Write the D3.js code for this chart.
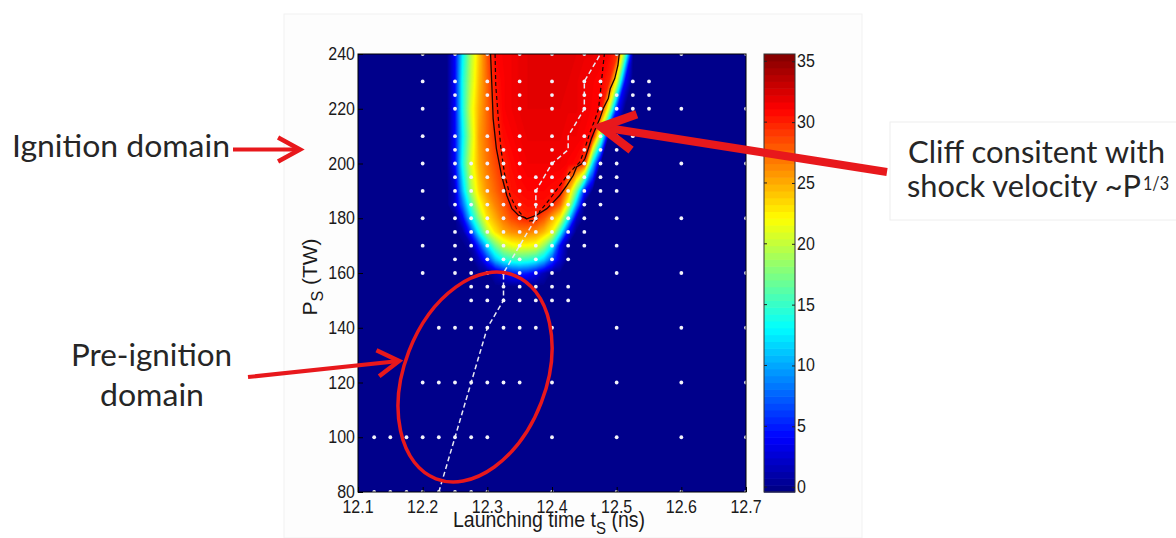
<!DOCTYPE html>
<html><head><meta charset="utf-8">
<script src="https://cdn.jsdelivr.net/npm/d3@7"></script>
<style>html,body{margin:0;padding:0;background:#fff;} svg{display:block;}</style>
</head><body>
<svg id="chart" width="1176" height="538"></svg>
<script>
// ---------------- data ----------------
const xTicks = [12.1, 12.2, 12.3, 12.4, 12.5, 12.6, 12.7];
const yTicks = [80, 100, 120, 140, 160, 180, 200, 220, 240];
const cbTicks = [0, 5, 10, 15, 20, 25, 30, 35];

// grid of the ignition map, columns = launching time, rows = power
const tGrid = [12.2, 12.2125, 12.225, 12.2375, 12.25, 12.2625, 12.275, 12.2875, 12.3, 12.3125,
  12.325, 12.3375, 12.35, 12.3625, 12.375, 12.3875, 12.4, 12.4125, 12.425, 12.4375,
  12.45, 12.4625, 12.475, 12.4875, 12.5, 12.5125, 12.525, 12.5375, 12.55, 12.5625, 12.575];
const pGrid = [240, 230, 220, 210, 200, 190, 185, 180, 175, 170, 165, 160, 155];
const ignitionField = [
  [0,0,0,0, 4,13,19.5,24,28,31,31.3,31.5,31.8,32,32,32,32,32,32,32,31.8,31.8,31.5,31,29.5,17,0,0,0,0,0],
  [0,0,0,0, 4,14,20,24.5,27.5,30.5,31.2,31.5,31.8,32,32,32,32,32,32,31.8,31.5,31.3,31,30,21,4,0,0,0,0,0],
  [0,0,0,0, 4,14,21,25,27.5,30,31.2,31.5,31.8,32,32,32,32,32,31.8,31.8,31.5,31.2,31,21,5,0,0,0,0,0,0],
  [0,0,0,0, 4,13,20,25.5,27.5,29.5,30.8,31.2,31.5,31.8,31.8,31.8,31.8,31.8,31.5,31.5,31.2,30.5,18,0,0,0,0,0,0,0,0],
  [0,0,0,0, 4,14,21,25,27,28.5,30,30.8,31.2,31.5,31.5,31.5,31.5,31.5,31.2,30.8,29,12,0,0,0,0,0,0,0,0,0],
  [0,0,0,0, 2,11,19,23.5,26,27.5,29,30.5,30.8,31,31,31,30.8,30.5,25,17,5,0,0,0,0,0,0,0,0,0,0],
  [0,0,0,0, 2,8,15.5,21.5,24.5,26.5,28,30,30.3,30.6,30.6,30.6,30,27.5,21,10,0,0,0,0,0,0,0,0,0,0,0],
  [0,0,0,0, 0,4,12,18,23,25,27,28.5,29.5,30,29.5,28,25,22,13,2,0,0,0,0,0,0,0,0,0,0,0],
  [0,0,0,0, 0,1,6,13.5,19.5,23,25,26,26.5,26.5,26,24.5,22,14,4,0,0,0,0,0,0,0,0,0,0,0,0],
  [0,0,0,0, 0,0,1,6,12,17,20,21.5,22,22,21.5,18.5,13.5,4,0,0,0,0,0,0,0,0,0,0,0,0,0],
  [0,0,0,0, 0,0,0,2,6,11,14,15,15.5,15,14,11.5,7,2.5,0,0,0,0,0,0,0,0,0,0,0,0,0],
  [0,0,0,0, 0,0,0,0,0,1.5,3.5,5,5.5,5,3.5,1.5,0,0,0,0,0,0,0,0,0,0,0,0,0,0,0],
  [0,0,0,0, 0,0,0,0,0,0,0,0,0,0,0,0,0,0,0,0,0,0,0,0,0,0,0,0,0,0,0]
];

// ignition boundary (solid black), inner boundary (dashed black), minimum-time path (white dashed)
const solidBoundary = [[12.305,240],[12.307,228.6],[12.309,216.4],[12.314,205.4],[12.322,195.7],
  [12.330,188.4],[12.338,183.5],[12.348,181.1],[12.358,180.2],[12.361,179.8],[12.376,181.1],
  [12.392,183.5],[12.402,185.9],[12.412,188.4],[12.423,192.0],[12.433,195.7],[12.438,198.7],
  [12.446,199.9],[12.451,201.8],[12.456,205.4],[12.461,209.1],[12.466,212.1],[12.474,216.4],
  [12.479,220.0],[12.487,223.7],[12.490,227.3],[12.497,231.0],[12.502,235.9],[12.504,240]];
const dashedBoundary = [[12.312,240],[12.313,228.7],[12.317,216.4],[12.321,205.4],[12.327,195.7],
  [12.335,188.4],[12.345,183.5],[12.356,180.5],[12.365,179.0],[12.376,179.3],[12.381,182.5],
  [12.397,187.1],[12.412,192.0],[12.428,196.9],[12.443,200.5],[12.449,204.2],[12.459,211.5],
  [12.467,216.4],[12.472,220.0],[12.476,228.6],[12.478,233.4],[12.481,240]];
const minTimePath = [[12.225,80],[12.25,100],[12.275,120],[12.3,140],[12.325,150],[12.325,160],
  [12.35,170],[12.375,180],[12.375,190],[12.4,200],[12.425,205],[12.425,210],[12.45,220],
  [12.45,230],[12.475,240]];

// simulation sample points (white dots)
const dotP = [240,230,225,220,210,205,200,195,190,185,180,175,170,165,160,155,150,140,120,100,80];
const dotT = [
  [12.2,12.25,12.3,12.35,12.4,12.45,12.5,12.6,12.7],
  [12.2,12.25,12.3,12.35,12.4,12.45,12.475,12.525,12.55],
  [12.25,12.3,12.35,12.4,12.45,12.475,12.5,12.525,12.55],
  [12.2,12.25,12.3,12.35,12.4,12.45,12.475,12.5,12.525,12.55,12.6,12.7],
  [12.2,12.25,12.3,12.35,12.4,12.45,12.475,12.5,12.525],
  [12.25,12.3,12.325,12.35,12.4,12.45,12.475,12.5],
  [12.2,12.25,12.275,12.3,12.325,12.35,12.4,12.45,12.475,12.5,12.6,12.7],
  [12.25,12.275,12.3,12.325,12.35,12.375,12.4,12.425,12.45,12.475,12.5],
  [12.2,12.25,12.275,12.3,12.325,12.35,12.375,12.4,12.425,12.45,12.475,12.5],
  [12.25,12.275,12.3,12.325,12.35,12.375,12.4,12.425,12.45,12.475],
  [12.2,12.25,12.275,12.3,12.325,12.35,12.375,12.4,12.425,12.45,12.5,12.6,12.7],
  [12.25,12.275,12.3,12.325,12.35,12.375,12.4,12.425,12.45],
  [12.2,12.25,12.275,12.3,12.325,12.35,12.375,12.4,12.425,12.45,12.5],
  [12.25,12.275,12.3,12.325,12.35,12.375,12.4,12.425],
  [12.2,12.25,12.275,12.3,12.325,12.35,12.375,12.4,12.5,12.6,12.7],
  [12.275,12.3,12.325,12.35,12.375,12.4,12.425],
  [12.275,12.3,12.325,12.35,12.375,12.4,12.425],
  [12.225,12.25,12.275,12.3,12.325,12.35,12.375,12.4,12.5,12.6,12.7],
  [12.2,12.225,12.25,12.275,12.3,12.325,12.35,12.4,12.5,12.6,12.7],
  [12.125,12.15,12.175,12.2,12.225,12.25,12.275,12.3,12.4,12.5,12.6,12.7],
  [12.125,12.15,12.175,12.2,12.225,12.25,12.275,12.3,12.4,12.5,12.6,12.7]
];
const colorRange = [-0.4, 35.6];

// ---------------- drawing ----------------
const svg = d3.select("#chart");
const plot = {l: 358, r: 746, t: 54, b: 492};
const x = d3.scaleLinear().domain([12.1, 12.7]).range([plot.l, plot.r]);
const y = d3.scaleLinear().domain([80, 240]).range([plot.b, plot.t]);
const span = colorRange[1] - colorRange[0];
const color = d3.scaleLinear()
  .domain([0, 1/8, 3/8, 5/8, 7/8, 1].map(f => colorRange[0] + f * span))
  .range(["#000080", "#0000ff", "#00ffff", "#ffff00", "#ff0000", "#800000"])
  .clamp(true);

const RED = "#e8181c";
const TXT = "#262626";
const fontAx = "'Liberation Sans', Arial, sans-serif";
const STRETCH = 1.14;

// faint figure background / text box
svg.append("rect").attr("x", 284).attr("y", 14).attr("width", 578).attr("height", 524)
  .attr("fill", "#fdfdfd").attr("stroke", "#f1f1f1");
svg.append("rect").attr("x", 890).attr("y", 122).attr("width", 290).attr("height", 98)
  .attr("fill", "#fff").attr("stroke", "#eeeeee");

svg.append("clipPath").attr("id", "plotclip").append("rect")
  .attr("x", plot.l).attr("y", plot.t).attr("width", plot.r - plot.l).attr("height", plot.b - plot.t);
const g = svg.append("g").attr("clip-path", "url(#plotclip)");

g.append("rect").attr("x", plot.l).attr("y", plot.t).attr("width", plot.r - plot.l)
  .attr("height", plot.b - plot.t).attr("fill", color(0));

// filled contour bands of the field
const nx = tGrid.length, ny = pGrid.length;
const values = ignitionField.flat();
const step = 0.25;
const thresholds = d3.range(step, colorRange[1], step);
const contours = d3.contours().size([nx, ny]).smooth(true).thresholds(thresholds)(values);
const gx = d3.scaleLinear().domain([0.5, nx - 0.5]).range([tGrid[0], tGrid[nx - 1]]);
const gy = d3.scaleLinear().domain(pGrid.map((_, i) => i + 0.5)).range(pGrid);
const proj = d3.geoTransform({point(px, py) { this.stream.point(x(gx(px)), y(gy(py))); }});
const gpath = d3.geoPath(proj);
g.append("g").selectAll("path").data(contours).join("path")
  .attr("d", gpath)
  .attr("fill", d => color(d.value + step / 2))
  .attr("stroke", d => color(d.value + step / 2))
  .attr("stroke-width", 0.3);

const line = d3.line().x(d => x(d[0])).y(d => y(d[1]));
g.append("path").attr("d", line(solidBoundary)).attr("fill", "none")
  .attr("stroke", "#1a0505").attr("stroke-width", 1.3);
g.append("path").attr("d", line(dashedBoundary)).attr("fill", "none")
  .attr("stroke", "#1a0505").attr("stroke-width", 1.2).attr("stroke-dasharray", "4,3");
g.append("path").attr("d", line(minTimePath)).attr("fill", "none")
  .attr("stroke", "#e8e8f2").attr("stroke-width", 1.5).attr("stroke-dasharray", "5,3");

// sample dots
const dots = [];
dotP.forEach((p, i) => dotT[i].forEach(t => dots.push([t, p])));
g.append("g").selectAll("circle").data(dots).join("circle")
  .attr("cx", d => x(d[0])).attr("cy", d => y(d[1])).attr("r", 1.9)
  .attr("fill", "#f2f2fa");

// axes frame
svg.append("rect").attr("x", plot.l).attr("y", plot.t).attr("width", plot.r - plot.l)
  .attr("height", plot.b - plot.t).attr("fill", "none").attr("stroke", "#000").attr("stroke-width", 1);

// tick marks (inward) via d3 axes, labels drawn separately
const xAxis = svg.append("g").attr("transform", `translate(0,${plot.b})`)
  .call(d3.axisBottom(x).tickValues(xTicks).tickFormat("").tickSizeInner(-5).tickSizeOuter(0));
const yAxis = svg.append("g").attr("transform", `translate(${plot.l},0)`)
  .call(d3.axisLeft(y).tickValues(yTicks).tickFormat("").tickSizeInner(-5).tickSizeOuter(0));
[xAxis, yAxis].forEach(a => { a.select(".domain").remove(); a.selectAll("line").attr("stroke", "#000"); });

function stretchedText(parent, px, py, txt, anchor, size) {
  return parent.append("text")
    .attr("transform", `translate(${px},${py}) scale(1,${STRETCH})`)
    .attr("text-anchor", anchor).attr("font-family", fontAx).attr("font-size", size)
    .attr("fill", "#1a1a1a").text(txt);
}
const tl = svg.append("g");
xTicks.forEach(t => stretchedText(tl, x(t), 513, d3.format(".1f")(t), "middle", 16));
yTicks.forEach(p => stretchedText(tl, 355, y(p) + 6, d3.format("d")(p), "end", 16));

// axis labels
const xl = svg.append("text").attr("transform", `translate(549,527) scale(1,${STRETCH})`)
  .attr("text-anchor", "middle").attr("font-family", fontAx).attr("font-size", 19.5).attr("fill", "#1a1a1a");
xl.append("tspan").text("Launching time t");
xl.append("tspan").attr("dy", 6).attr("font-size", 15).text("S");
xl.append("tspan").attr("dy", -6).text(" (ns)");

const yl = svg.append("text").attr("transform", "translate(317,277) rotate(-90)")
  .attr("text-anchor", "middle").attr("font-family", fontAx).attr("font-size", 21).attr("fill", "#1a1a1a");
yl.append("tspan").text("P");
yl.append("tspan").attr("dy", 6).attr("font-size", 16).text("S");
yl.append("tspan").attr("dy", -6).text(" (TW)");

// colorbar
const cb = {l: 764, r: 795, t: 54, b: 492};
const cbY = d3.scaleLinear().domain(colorRange).range([cb.b, cb.t]);
const nBands = 64;
const bands = d3.range(nBands).map(i => colorRange[0] + span * i / nBands);
svg.append("g").selectAll("rect").data(bands).join("rect")
  .attr("x", cb.l).attr("width", cb.r - cb.l)
  .attr("y", d => cbY(d + span / nBands)).attr("height", d => cbY(d) - cbY(d + span / nBands) + 0.6)
  .attr("fill", d => color(d + span / nBands / 2));
svg.append("rect").attr("x", cb.l).attr("y", cb.t).attr("width", cb.r - cb.l).attr("height", cb.b - cb.t)
  .attr("fill", "none").attr("stroke", "#333").attr("stroke-width", 1);
const cbAxis = svg.append("g").attr("transform", `translate(${cb.r},0)`)
  .call(d3.axisRight(cbY).tickValues(cbTicks).tickFormat("").tickSizeInner(-3).tickSizeOuter(0));
cbAxis.select(".domain").remove();
cbAxis.selectAll("line").attr("stroke", "#222");
svg.append("g").selectAll("line").data(cbTicks).join("line")
  .attr("x1", cb.l).attr("x2", cb.l + 3).attr("y1", d => cbY(d)).attr("y2", d => cbY(d)).attr("stroke", "#222");
cbTicks.forEach(v => stretchedText(tl, 797, cbY(v) + 6, String(v), "start", 16));

// ---------------- annotations ----------------
const ann = svg.append("g");
ann.append("ellipse").attr("cx", 0).attr("cy", 0).attr("rx", 71).attr("ry", 109)
  .attr("transform", `translate(${x(12.281)},${y(122)}) rotate(21)`)
  .attr("fill", "none").attr("stroke", RED).attr("stroke-width", 3.5);

function arrow(tail, tip, width, armLen, armAng) {
  const a = Math.atan2(tail[1] - tip[1], tail[0] - tip[0]);
  const arm = s => [tip[0] + armLen * Math.cos(a + s * armAng), tip[1] + armLen * Math.sin(a + s * armAng)];
  ann.append("path").attr("d", d3.line()([tail, tip])).attr("stroke", RED)
    .attr("stroke-width", width).attr("fill", "none");
  ann.append("path").attr("d", d3.line()([arm(1), tip, arm(-1)])).attr("stroke", RED)
    .attr("stroke-width", width + 0.5).attr("fill", "none").attr("stroke-linejoin", "miter");
}
arrow([233, 149.5], [300, 149.5], 4, 25, 0.5);
arrow([248, 377], [399, 361], 4, 25, 0.55);
arrow([887, 172], [601, 127], 8, 38, 0.5);

const fontAnn = "Lato, 'Open Sans', sans-serif";
function label(txt, x0, yb, len, size) {
  return ann.append("text").attr("x", x0).attr("y", yb).attr("font-family", fontAnn)
    .attr("font-size", size || 30).attr("fill", TXT)
    .attr("textLength", len).attr("lengthAdjust", "spacingAndGlyphs").text(txt);
}
label("Ignition domain", 12, 157, 218);
label("Pre-ignition", 71, 366, 161);
label("domain", 100, 406, 104);
label("Cliff consitent with", 908, 163, 257);
label("shock velocity ~P", 907, 197, 234);
label("1/3", 1143, 190, 26, 19);
</script>
</body></html>
